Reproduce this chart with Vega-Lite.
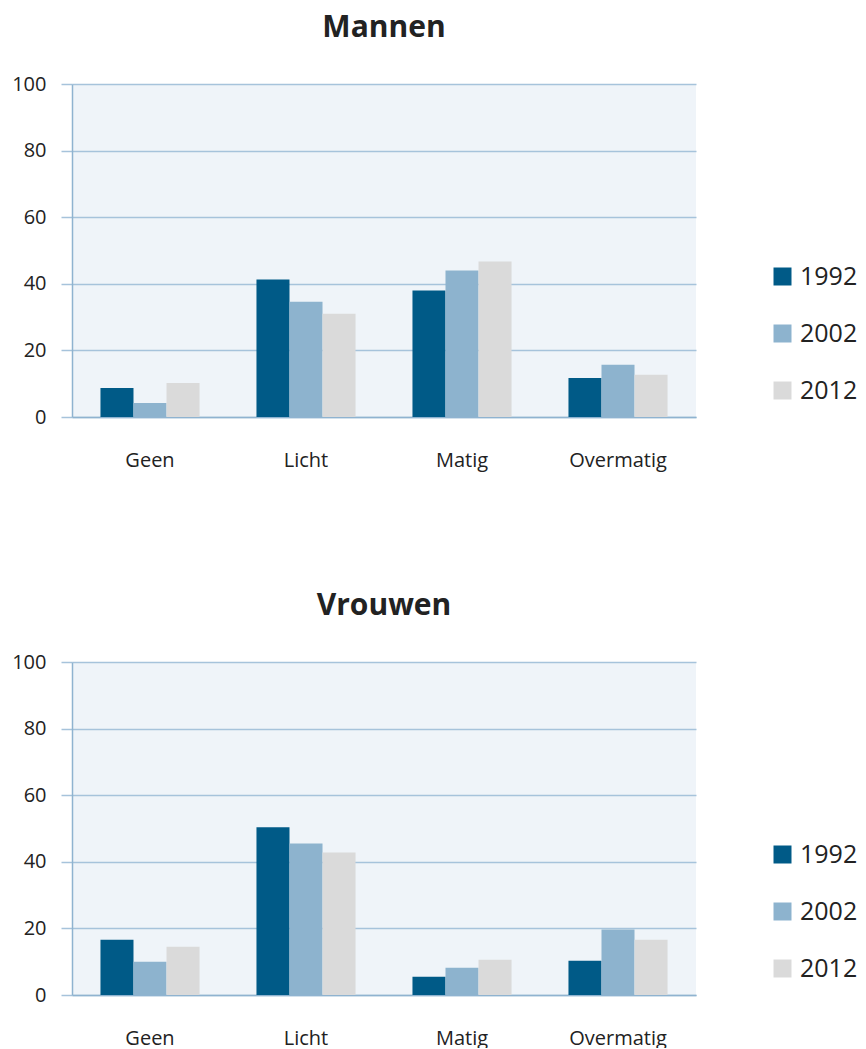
{
  "$schema": "https://vega.github.io/schema/vega-lite/v6.json",
  "background": "white",
  "padding": {"left": 11, "top": 13, "right": 0, "bottom": 0},
  "config": {
    "font": "Open Sans",
    "view": {"fill": "#EFF4F9", "stroke": null},
    "axis": {"labelColor": "#222222", "labelFontSize": 20, "titleColor": "#222222"},
    "legend": {"labelColor": "#222222"}
  },
  "datasets": {
    "alcohol": [
      {"geslacht": "Mannen", "categorie": "Geen", "jaar": "1992", "waarde": 8.7},
      {"geslacht": "Mannen", "categorie": "Geen", "jaar": "2002", "waarde": 4.2},
      {"geslacht": "Mannen", "categorie": "Geen", "jaar": "2012", "waarde": 10.2},
      {"geslacht": "Mannen", "categorie": "Licht", "jaar": "1992", "waarde": 41.3},
      {"geslacht": "Mannen", "categorie": "Licht", "jaar": "2002", "waarde": 34.6},
      {"geslacht": "Mannen", "categorie": "Licht", "jaar": "2012", "waarde": 31.0},
      {"geslacht": "Mannen", "categorie": "Matig", "jaar": "1992", "waarde": 38.0},
      {"geslacht": "Mannen", "categorie": "Matig", "jaar": "2002", "waarde": 44.0},
      {"geslacht": "Mannen", "categorie": "Matig", "jaar": "2012", "waarde": 46.7},
      {"geslacht": "Mannen", "categorie": "Overmatig", "jaar": "1992", "waarde": 11.7},
      {"geslacht": "Mannen", "categorie": "Overmatig", "jaar": "2002", "waarde": 15.7},
      {"geslacht": "Mannen", "categorie": "Overmatig", "jaar": "2012", "waarde": 12.7},
      {"geslacht": "Vrouwen", "categorie": "Geen", "jaar": "1992", "waarde": 16.6},
      {"geslacht": "Vrouwen", "categorie": "Geen", "jaar": "2002", "waarde": 10.0},
      {"geslacht": "Vrouwen", "categorie": "Geen", "jaar": "2012", "waarde": 14.5},
      {"geslacht": "Vrouwen", "categorie": "Licht", "jaar": "1992", "waarde": 50.4},
      {"geslacht": "Vrouwen", "categorie": "Licht", "jaar": "2002", "waarde": 45.5},
      {"geslacht": "Vrouwen", "categorie": "Licht", "jaar": "2012", "waarde": 42.8},
      {"geslacht": "Vrouwen", "categorie": "Matig", "jaar": "1992", "waarde": 5.5},
      {"geslacht": "Vrouwen", "categorie": "Matig", "jaar": "2002", "waarde": 8.2},
      {"geslacht": "Vrouwen", "categorie": "Matig", "jaar": "2012", "waarde": 10.6},
      {"geslacht": "Vrouwen", "categorie": "Overmatig", "jaar": "1992", "waarde": 10.3},
      {"geslacht": "Vrouwen", "categorie": "Overmatig", "jaar": "2002", "waarde": 19.7},
      {"geslacht": "Vrouwen", "categorie": "Overmatig", "jaar": "2012", "waarde": 16.6}
    ]
  },
  "spacing": 121,
  "resolve": {"scale": {"color": "independent"}, "legend": {"color": "independent"}},
  "vconcat": [
    {
      "title": {"text": "Mannen", "fontSize": 30, "fontWeight": "bold", "color": "#222222", "offset": 31, "frame": "group"},
      "width": 624,
      "height": 333,
      "data": {"name": "alcohol"},
      "transform": [{"filter": "datum.geslacht === 'Mannen'"}],
      "mark": {"type": "bar"},
      "encoding": {
        "x": {"field": "categorie", "type": "nominal", "sort": ["Geen", "Licht", "Matig", "Overmatig"],
          "scale": {"paddingInner": 0.365, "paddingOuter": 0.1825},
          "axis": {"title": null, "labelAngle": 0, "ticks": false, "labelPadding": 33, "domainColor": "#8FB3D0", "domainWidth": 1.5, "grid": false}},
        "xOffset": {"field": "jaar", "type": "nominal", "scale": {"paddingInner": 0, "paddingOuter": 0}},
        "y": {"field": "waarde", "type": "quantitative", "scale": {"domain": [0, 100], "nice": false},
          "axis": {"title": null, "values": [0, 20, 40, 60, 80, 100], "tickSize": 11, "tickColor": "#A6C3DB", "tickWidth": 1.5, "gridColor": "#A6C3DB", "gridWidth": 1.5, "gridOpacity": 1, "domainColor": "#8FB3D0", "domainWidth": 1.5, "labelPadding": 15}},
        "color": {"field": "jaar", "type": "nominal",
          "scale": {"domain": ["1992", "2002", "2012"], "range": ["#005A87", "#8DB3CE", "#DADADA"]},
          "legend": {"title": null, "orient": "none", "legendX": 698, "legendY": 180, "symbolType": "square", "symbolSize": 324, "symbolStrokeWidth": 0, "labelFontSize": 25, "labelOffset": 5, "rowPadding": 31}}
      }
    },
    {
      "title": {"text": "Vrouwen", "fontSize": 30, "fontWeight": "bold", "color": "#222222", "offset": 31, "frame": "group"},
      "width": 624,
      "height": 333,
      "data": {"name": "alcohol"},
      "transform": [{"filter": "datum.geslacht === 'Vrouwen'"}],
      "mark": {"type": "bar"},
      "encoding": {
        "x": {"field": "categorie", "type": "nominal", "sort": ["Geen", "Licht", "Matig", "Overmatig"],
          "scale": {"paddingInner": 0.365, "paddingOuter": 0.1825},
          "axis": {"title": null, "labelAngle": 0, "ticks": false, "labelPadding": 33, "domainColor": "#8FB3D0", "domainWidth": 1.5, "grid": false}},
        "xOffset": {"field": "jaar", "type": "nominal", "scale": {"paddingInner": 0, "paddingOuter": 0}},
        "y": {"field": "waarde", "type": "quantitative", "scale": {"domain": [0, 100], "nice": false},
          "axis": {"title": null, "values": [0, 20, 40, 60, 80, 100], "tickSize": 11, "tickColor": "#A6C3DB", "tickWidth": 1.5, "gridColor": "#A6C3DB", "gridWidth": 1.5, "gridOpacity": 1, "domainColor": "#8FB3D0", "domainWidth": 1.5, "labelPadding": 15}},
        "color": {"field": "jaar", "type": "nominal",
          "scale": {"domain": ["1992", "2002", "2012"], "range": ["#005A87", "#8DB3CE", "#DADADA"]},
          "legend": {"title": null, "orient": "none", "legendX": 698, "legendY": 180, "symbolType": "square", "symbolSize": 324, "symbolStrokeWidth": 0, "labelFontSize": 25, "labelOffset": 5, "rowPadding": 31}}
      }
    }
  ]
}
